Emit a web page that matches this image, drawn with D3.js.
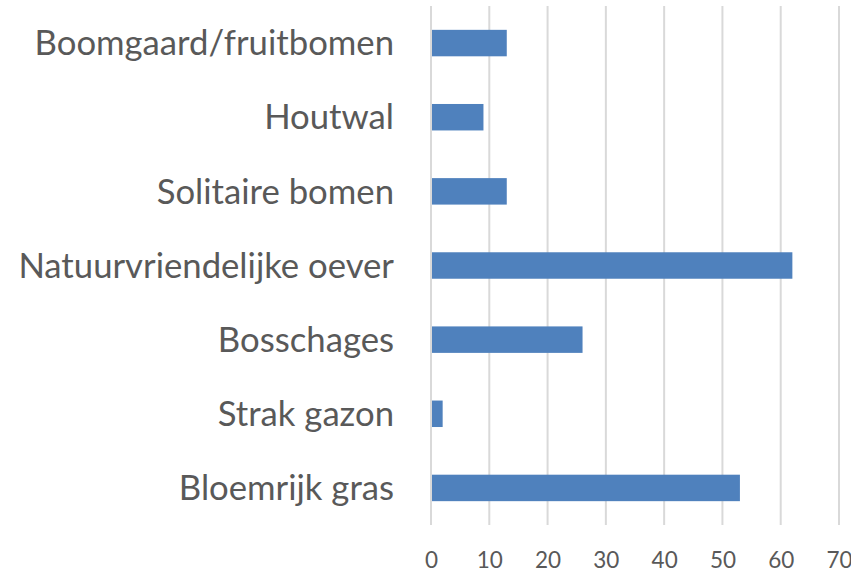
<!DOCTYPE html>
<html>
<head>
<meta charset="utf-8">
<script src="https://cdn.jsdelivr.net/npm/d3@7"></script>
<style>
  html, body { margin: 0; padding: 0; background: #fff; }
  svg { display: block; }
</style>
</head>
<body>
<svg id="chart" width="851" height="572"></svg>
<script>
const categories = ["Boomgaard/fruitbomen", "Houtwal", "Solitaire bomen", "Natuurvriendelijke oever", "Bosschages", "Strak gazon", "Bloemrijk gras"];
const values = [13, 9, 13, 62, 26, 2, 53];
const tickValues = [0, 10, 20, 30, 40, 50, 60, 70];

(function () {
const svg = d3.select("#chart");
const mLeft = 431, mRight = 839, mTop = 6, mBottom = 525;

const x = d3.scaleLinear().domain([0, 70]).range([mLeft, mRight]);
const y = d3.scaleBand().domain(categories).range([mTop, mBottom]).paddingInner(0.643).paddingOuter(0.3215);

// gridlines
svg.append("g").selectAll("line").data(tickValues).join("line")
  .attr("x1", d => x(d)).attr("x2", d => x(d))
  .attr("y1", mTop).attr("y2", mBottom)
  .attr("stroke", "#d9d9d9").attr("stroke-width", 2);

// bars
svg.append("g").selectAll("rect").data(categories).join("rect")
  .attr("x", x(0) + 1)
  .attr("y", d => y(d))
  .attr("width", (d, i) => x(values[i]) - x(0) - 1)
  .attr("height", y.bandwidth())
  .attr("fill", "#4f81bd");

// x axis tick labels
const xAxis = d3.axisBottom(x).tickValues(tickValues).tickSize(0).tickPadding(0);
const gx = svg.append("g").attr("transform", `translate(0,${mBottom})`).call(xAxis);
gx.select(".domain").remove();
gx.selectAll("text")
  .attr("y", 43).attr("dy", null)
  .attr("font-family", "Lato, 'Open Sans', sans-serif")
  .attr("font-size", 22.5)
  .attr("fill", "#595959");

// category labels
const yAxis = d3.axisLeft(y).tickSize(0).tickPadding(0);
const gy = svg.append("g").attr("transform", `translate(${mLeft - 37},0)`).call(yAxis);
gy.select(".domain").remove();
gy.selectAll("text")
  .attr("x", 0).attr("dy", "0.35em")
  .attr("text-anchor", "end")
  .attr("font-family", "Lato, 'Open Sans', sans-serif")
  .attr("font-size", 34.7)
  .attr("fill", "#595959");
})();
</script>
</body>
</html>
